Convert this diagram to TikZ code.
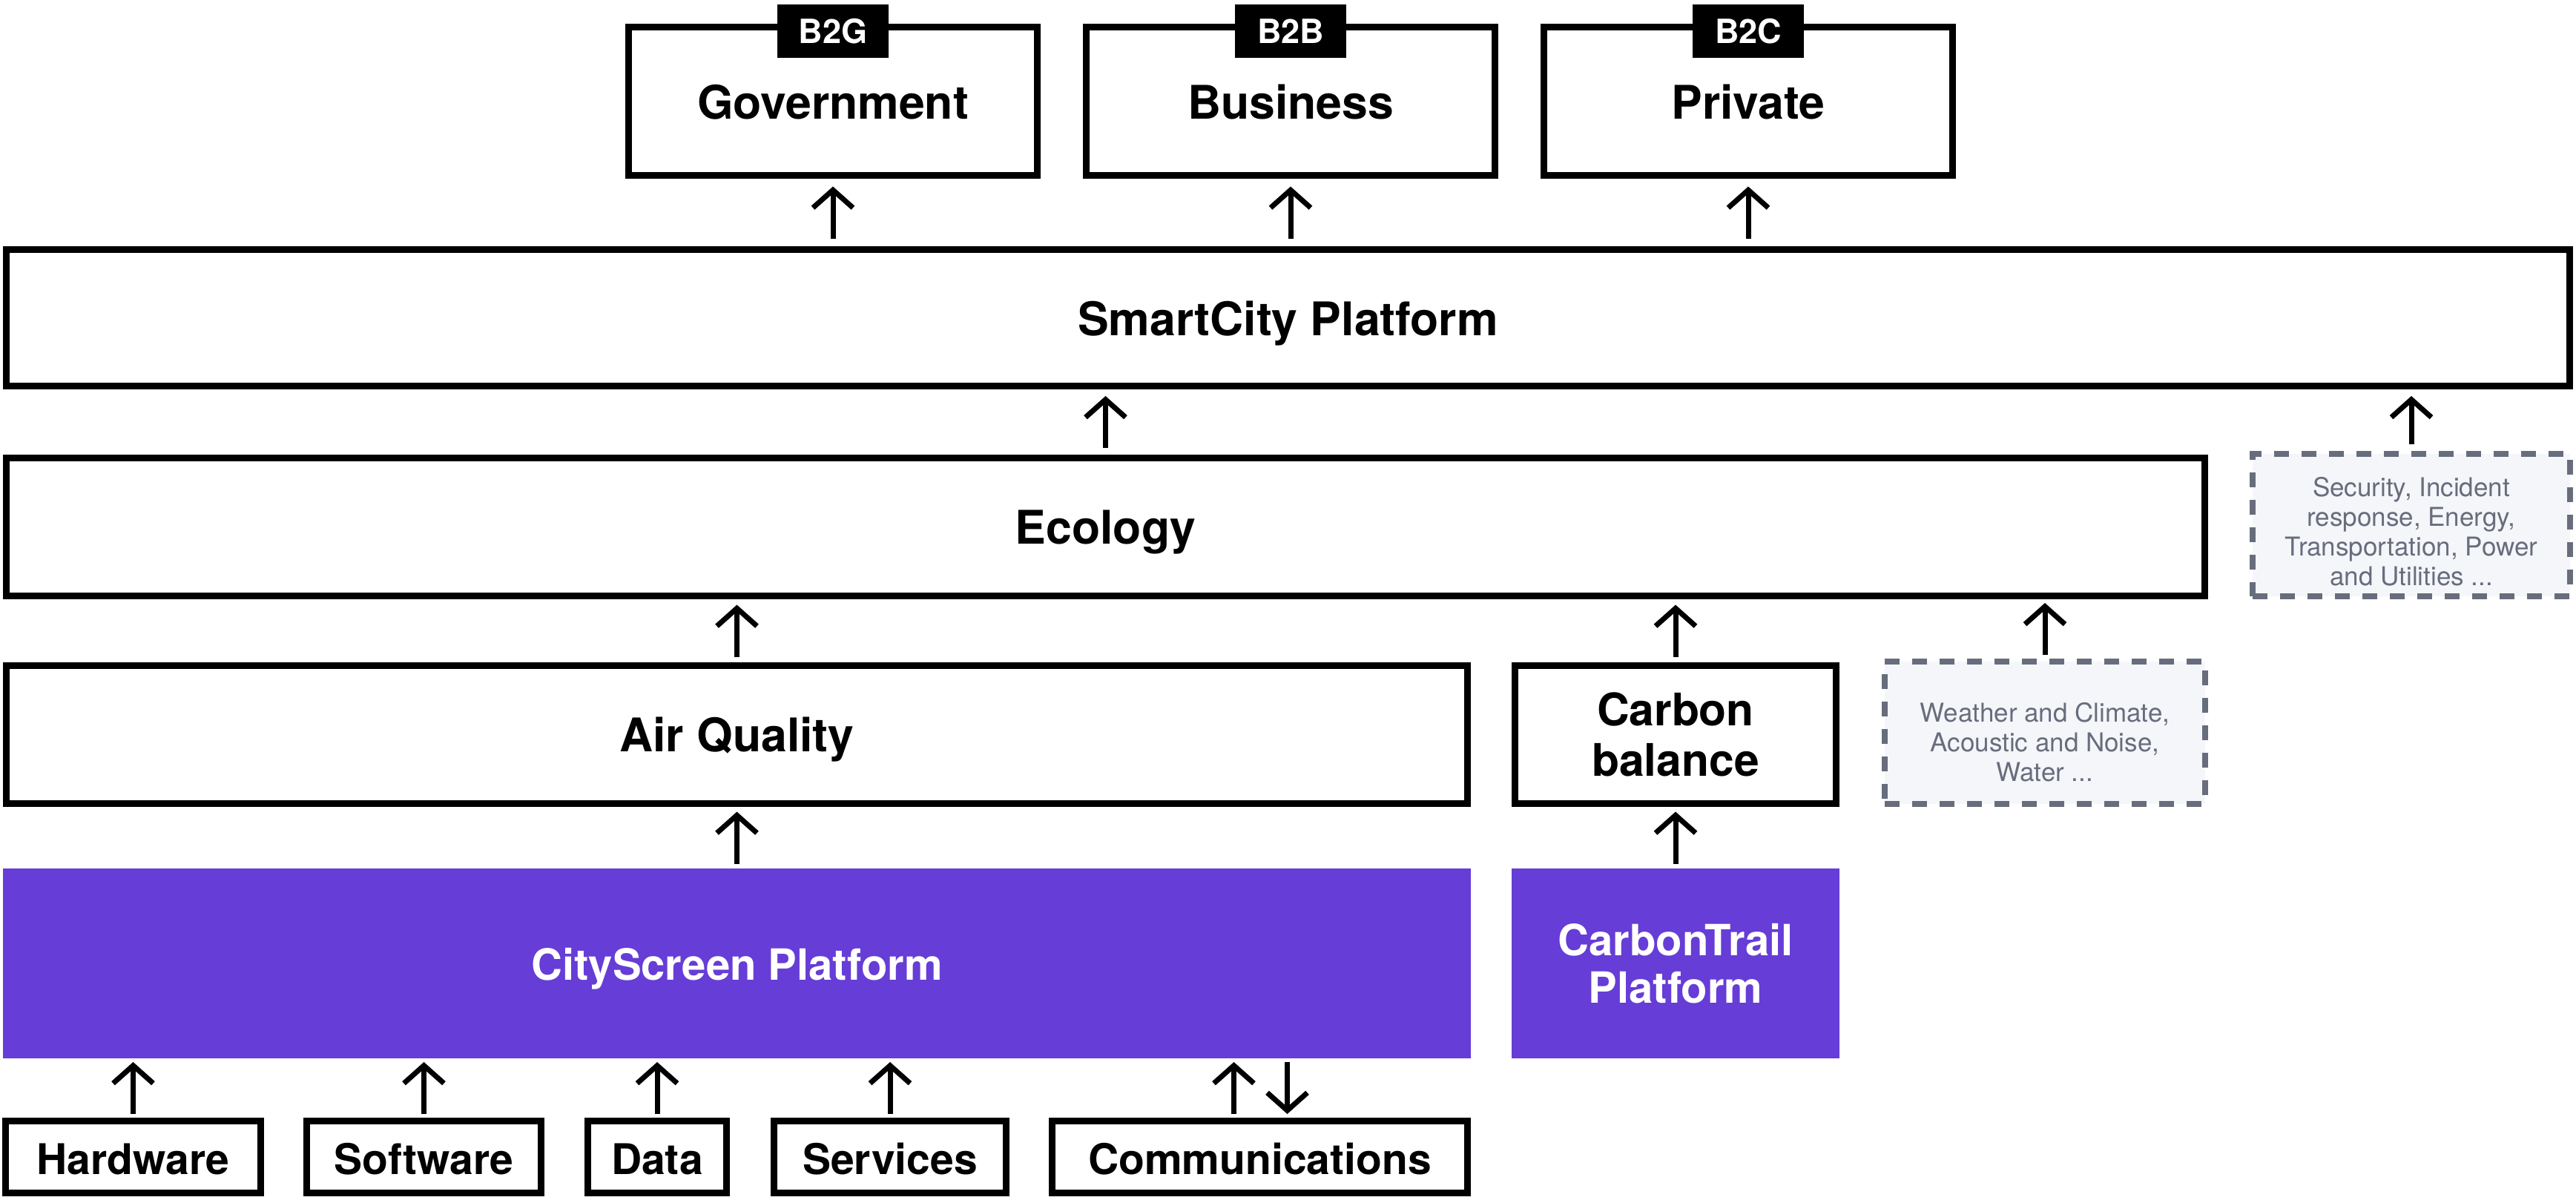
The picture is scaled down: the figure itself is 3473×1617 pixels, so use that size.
\documentclass[tikz,border=0pt]{standalone}
\usepackage{fontspec}
\setmainfont{TeX Gyre Heros}
\usetikzlibrary{arrows.meta}
\definecolor{purp}{HTML}{663DD6}
\definecolor{slate}{HTML}{686D7D}
\definecolor{pale}{HTML}{F5F6FA}
\begin{document}
\begin{tikzpicture}[x=1pt,y=-1pt,
  box/.style={draw, line width=9pt, rectangle, inner sep=0pt, align=center,
    font=\bfseries\fontsize{62.5}{68}\selectfont},
  one/.style={text height=#1, text depth=0pt},
  one/.default=47pt,
  plat/.style={fill=purp, draw=none, text=white, inner sep=0pt, outer sep=0pt,
    align=center, font=\bfseries\fontsize{58}{64}\selectfont},
  tagbox/.style={fill=black, text=white, inner sep=0pt, outer sep=0pt,
    minimum width=150pt, minimum height=72pt, text height=32pt, text depth=0pt,
    font=\bfseries\fontsize{45}{48}\selectfont},
  dbox/.style={draw=slate, fill=pale, line width=8pt, dash pattern=on 20pt off 17pt,
    inner sep=0pt},
  dtext/.style={text=slate, align=center, font=\fontsize{35}{40}\selectfont, yshift=-9pt},
  arr/.style={line width=7pt, -{Straight Barb[length=24pt,width=54pt]},
    shorten >=#1, shorten <=#1},
  arr/.default=6pt
]
\useasboundingbox (0,0) rectangle (3473,1617);

% top row
\node[box, one=48pt, minimum width=551pt, minimum height=200pt] (gov) at (1123,136.5) {Government};
\node[box, one=48pt, minimum width=551pt, minimum height=200pt] (bus) at (1740,136.5) {Business};
\node[box, one=48pt, minimum width=551pt, minimum height=200pt] (pri) at (2357,136.5) {Private};
\node[tagbox] (tg) at (1123,42) {B2G};
\node[tagbox] (tb) at (1740,42) {B2B};
\node[tagbox] (tp) at (2357,42) {B2C};

% smartcity
\node[box, one=47pt, minimum width=3456pt, minimum height=184pt] (sc) at (1736.5,428.5) {SmartCity Platform};

% ecology row
\node[box, one=45pt, minimum width=2964pt, minimum height=186pt] (eco) at (1490.5,710.5) {Ecology};
\node[dbox, minimum width=428pt, minimum height=192pt,
  label={[dtext]center:{Security, Incident\\response, Energy,\\Transportation, Power\\and Utilities ...}}]
  (sec) at (3251,708) {};

% third row
\node[box, one=45pt, minimum width=1970pt, minimum height=186pt] (aq) at (993.5,990.5) {Air Quality};
\node[box, minimum width=433pt, minimum height=186pt, font=\bfseries\fontsize{60.5}{68}\selectfont]
  (cb) at (2259,990.5) {Carbon\\balance};
\node[dbox, minimum width=432pt, minimum height=192pt,
  label={[dtext, yshift=-4pt]center:{Weather and Climate,\\Acoustic and Noise,\\Water ...}}]
  (wc) at (2757,988) {};

% platforms
\node[plat, one=44pt, minimum width=1979pt, minimum height=256pt] (cs) at (993.5,1299) {CityScreen Platform};
\node[plat, minimum width=442pt, minimum height=256pt] (ct) at (2259,1299) {CarbonTrail\\Platform};

% bottom row
\tikzset{bot/.style={box, one=47pt, minimum height=97pt, font=\bfseries\fontsize{57}{64}\selectfont}}
\node[bot, minimum width=344pt] (hw) at (179.5,1560) {Hardware};
\node[bot, minimum width=316pt] (sw) at (571.5,1560) {Software};
\node[bot, minimum width=187pt] (da) at (886,1560) {Data};
\node[bot, minimum width=313pt] (sv) at (1200,1560) {Services};
\node[bot, minimum width=560pt] (cm) at (1698.5,1560) {Communications};

% arrows top
\draw[arr=10.5pt] (gov.south |- sc.north) -- (gov.south);
\draw[arr=10.5pt] (bus.south |- sc.north) -- (bus.south);
\draw[arr=10.5pt] (pri.south |- sc.north) -- (pri.south);
% ecology -> smartcity
\draw[arr=9pt] (eco.north) -- (eco.north |- sc.south);
\draw[arr=9pt] (sec.north) -- (sec.north |- sc.south);
% row3 -> ecology
\draw[arr=7.5pt] (aq.north) -- (aq.north |- eco.south);
\draw[arr=7.5pt] (cb.north) -- (cb.north |- eco.south);
\draw[arr=5pt] (wc.north) -- (wc.north |- eco.south);
% platforms -> row3
\draw[arr=6.5pt] (cs.north) -- (cs.north |- aq.south);
\draw[arr=6.5pt] (ct.north) -- (ct.north |- cb.south);
% bottom -> cityscreen
\draw[arr=5pt] (hw.north) -- (hw.north |- cs.south);
\draw[arr=5pt] (sw.north) -- (sw.north |- cs.south);
\draw[arr=5pt] (da.north) -- (da.north |- cs.south);
\draw[arr=5pt] (sv.north) -- (sv.north |- cs.south);
\draw[arr=5pt] ([xshift=-35pt]cm.north) -- ([xshift=-35pt]cm.north |- cs.south);
\draw[arr=5pt] ([xshift=37pt]cm.north |- cs.south) -- ([xshift=37pt]cm.north);
\end{tikzpicture}
\end{document}
